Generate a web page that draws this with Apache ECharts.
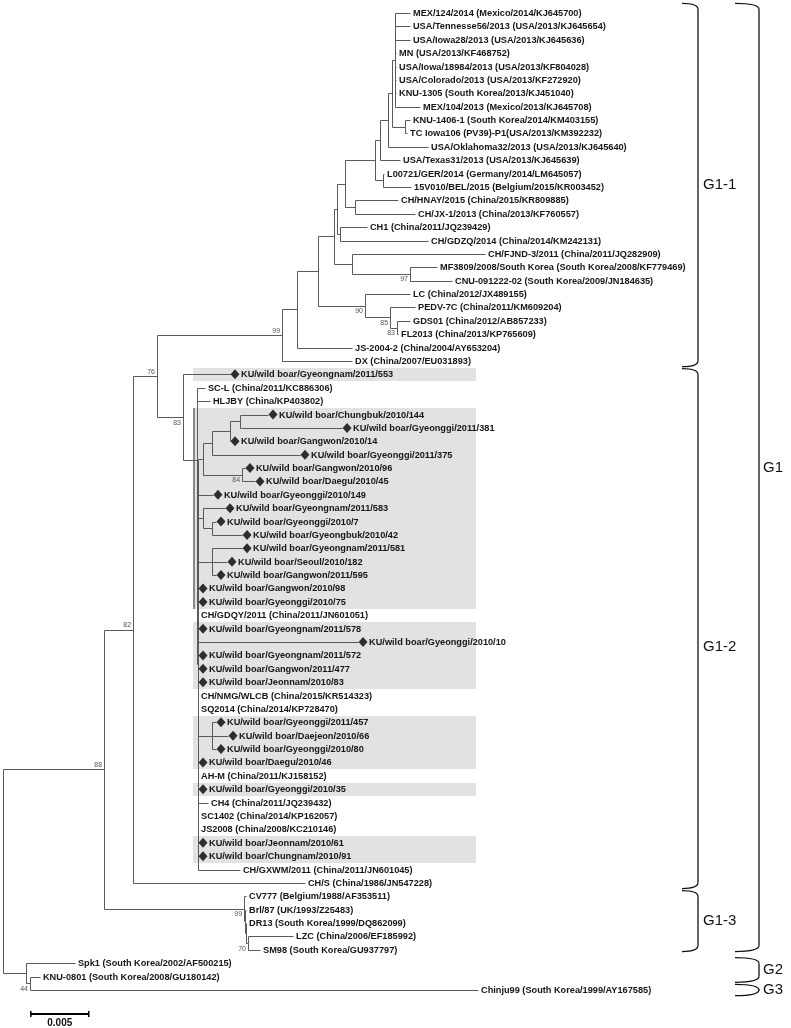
<!DOCTYPE html>
<html><head><meta charset="utf-8">
<script src="https://cdn.jsdelivr.net/npm/echarts@6/dist/echarts.min.js"></script>
<style>html,body{margin:0;padding:0;background:#fff}#c{width:791px;height:1028px}</style>
</head><body><div id="c"></div>
<script>
// ---------- DATA ----------
// leaf labels, top to bottom
const leafNames = [
 'MEX/124/2014 (Mexico/2014/KJ645700)','USA/Tennesse56/2013 (USA/2013/KJ645654)','USA/Iowa28/2013 (USA/2013/KJ645636)',
 'MN (USA/2013/KF468752)','USA/Iowa/18984/2013 (USA/2013/KF804028)','USA/Colorado/2013 (USA/2013/KF272920)',
 'KNU-1305 (South Korea/2013/KJ451040)','MEX/104/2013 (Mexico/2013/KJ645708)','KNU-1406-1 (South Korea/2014/KM403155)',
 'TC Iowa106 (PV39)-P1(USA/2013/KM392232)','USA/Oklahoma32/2013 (USA/2013/KJ645640)','USA/Texas31/2013 (USA/2013/KJ645639)',
 'L00721/GER/2014 (Germany/2014/LM645057)','15V010/BEL/2015 (Belgium/2015/KR003452)','CH/HNAY/2015 (China/2015/KR809885)',
 'CH/JX-1/2013 (China/2013/KF760557)','CH1 (China/2011/JQ239429)','CH/GDZQ/2014 (China/2014/KM242131)',
 'CH/FJND-3/2011 (China/2011/JQ282909)','MF3809/2008/South Korea (South Korea/2008/KF779469)','CNU-091222-02 (South Korea/2009/JN184635)',
 'LC (China/2012/JX489155)','PEDV-7C (China/2011/KM609204)','GDS01 (China/2012/AB857233)','FL2013 (China/2013/KP765609)',
 'JS-2004-2 (China/2004/AY653204)','DX (China/2007/EU031893)',
 'KU/wild boar/Gyeongnam/2011/553','SC-L (China/2011/KC886306)','HLJBY (China/KP403802)',
 'KU/wild boar/Chungbuk/2010/144','KU/wild boar/Gyeonggi/2011/381','KU/wild boar/Gangwon/2010/14','KU/wild boar/Gyeonggi/2011/375',
 'KU/wild boar/Gangwon/2010/96','KU/wild boar/Daegu/2010/45','KU/wild boar/Gyeonggi/2010/149','KU/wild boar/Gyeongnam/2011/583',
 'KU/wild boar/Gyeonggi/2010/7','KU/wild boar/Gyeongbuk/2010/42','KU/wild boar/Gyeongnam/2011/581','KU/wild boar/Seoul/2010/182',
 'KU/wild boar/Gangwon/2011/595','KU/wild boar/Gangwon/2010/98','KU/wild boar/Gyeonggi/2010/75','CH/GDQY/2011 (China/2011/JN601051)',
 'KU/wild boar/Gyeongnam/2011/578','KU/wild boar/Gyeonggi/2010/10','KU/wild boar/Gyeongnam/2011/572','KU/wild boar/Gangwon/2011/477',
 'KU/wild boar/Jeonnam/2010/83','CH/NMG/WLCB (China/2015/KR514323)','SQ2014 (China/2014/KP728470)',
 'KU/wild boar/Gyeonggi/2011/457','KU/wild boar/Daejeon/2010/66','KU/wild boar/Gyeonggi/2010/80','KU/wild boar/Daegu/2010/46',
 'AH-M (China/2011/KJ158152)','KU/wild boar/Gyeonggi/2010/35','CH4 (China/2011/JQ239432)','SC1402 (China/2014/KP162057)',
 'JS2008 (China/2008/KC210146)','KU/wild boar/Jeonnam/2010/61','KU/wild boar/Chungnam/2010/91','CH/GXWM/2011 (China/2011/JN601045)',
 'CH/S (China/1986/JN547228)',
 'CV777 (Belgium/1988/AF353511)','Brl/87 (UK/1993/Z25483)','DR13 (South Korea/1999/DQ862099)','LZC (China/2006/EF185992)',
 'SM98 (South Korea/GU937797)',
 'Spk1 (South Korea/2002/AF500215)','KNU-0801 (South Korea/2008/GU180142)','Chinju99 (South Korea/1999/AY167585)'
];
// parent node of each leaf
const leafParent = [
 'nUSA','nUSA','nUSA','nUSA','nUSA','nUSA','nUSA','nUSA','nKT','nKT','nB','nC','nLB','nLB','nCH','nCH','nCG','nCG',
 'nFM','nMC','nMC','nLC','nP','nGF','nGF','nJ','n99',
 'n83','nBig','nX2','NCG2','NCG2','N14','N375','N84','N84','nX3','N583','N7','N7','N581','N581','N581',
 'nX3','nX3','nX3','nX3','nX3','nX3','nX3','nX3','nX3','nX3','N66','N66','N66',
 'nX3','nX3','nX3','nX3','nX3','nX3','nX3','nX3','nX3','n82',
 'G13','G13b','G13c','n70','n70','G23','n44','n44'
];
// distance of each leaf from the root (substitutions/site)
const leafDepth = [
 0.03512,0.03512,0.03512,0.03392,0.03392,0.03392,0.03392,0.03599,0.03512,0.03487,0.03668,0.03426,0.03288,0.03521,
 0.03409,0.03556,0.03141,0.03668,0.04160,0.03745,0.03875,0.03512,0.03556,0.03512,0.03409,0.03012,0.03012,
 0.01959,0.01743,0.01786,0.02287,0.02926,0.01959,0.02563,0.02088,0.02175,0.01812,0.01916,0.01838,0.02063,0.02063,0.01933,0.01838,
 0.01683,0.01683,0.01683,0.01683,0.03064,0.01683,0.01683,0.01683,0.01683,0.01683,0.01838,0.01942,0.01838,
 0.01683,0.01683,0.01683,0.01769,0.01683,0.01683,0.01683,0.01683,0.02045,0.02606,
 0.02097,0.02097,0.02097,0.02503,0.02218,0.00621,0.00319,0.04099
];
// internal nodes
const nodeNames   = ['root','G23','n44','G1','n82','n76','n99','nJ','nX','nY','nZ','nE','nD','nC','nB','nA','nUSA','nKT','nLB','nCH','nCG','nFM','nMC','nLC','nP','nGF','n83','nBig','nX2','nX3','N203','N375','N14','NCG2','N84','N583','N7','N581','N66','G13','G13b','G13c','n70'];
const nodeParents = [null,'root','G23','root','G1','n82','n76','n99','nJ','nX','nY','nZ','nE','nD','nC','nB','nA','nA','nD','nE','nZ','nY','nFM','nX','nLC','nP','n76','n83','nBig','nX2','nX3','N203','N375','N14','N203','nX3','N583','nX3','nX3','G1','G13','G13b','G13c'];
const nodeDepths  = [0,0.00199,0.00233,0.00872,0.01122,0.01329,0.02408,0.02537,0.02718,0.02857,0.02882,0.02951,0.03210,0.03254,0.03323,0.03357,0.03383,0.03469,0.03279,0.03038,0.02908,0.03012,0.03512,0.03124,0.03340,0.03400,0.01553,0.01674,0.01678,0.01683,0.01726,0.01804,0.01959,0.02045,0.02063,0.01726,0.01804,0.01804,0.01804,0.02080,0.02088,0.02097,0.02114];
// bootstrap support values
const bootNodes  = ['n76','n83','n82','G1','n99','nMC','nLC','nP','nGF','N84','G13','n70','n44'];
const bootValues = [76,83,82,88,99,97,90,85,83,84,99,70,44];
const bootAbove  = [true,false,true,true,true,false,false,false,false,false,false,false,false];
// shaded (wild boar) rows
const shadedLeaves = [27,30,31,32,33,34,35,36,37,38,39,40,41,42,43,44,46,47,48,49,50,53,54,55,56,58,62,63];
// genogroups
const cladeNames = ['G1-1','G1-2','G1-3','G1','G2','G3'];
const cladeFirst = [0,27,66,0,71,73];
const cladeLast  = [26,65,70,70,72,73];
// scale bar length
const scaleBar = 0.005;

// ---------- TREE LAYOUT ----------
const nodes = {};
nodeNames.forEach((n,i)=>{ nodes[n] = {name:n, parent:nodeParents[i], depth:nodeDepths[i], children:[], leaf:false}; });
leafNames.forEach((n,i)=>{ nodes['L'+i] = {name:'L'+i, label:n, parent:leafParent[i], depth:leafDepth[i], children:[], leaf:true, y:i}; });
Object.values(nodes).forEach(nd=>{ if(nd.parent) nodes[nd.parent].children.push(nd); });
function calcY(nd){
  if(nd.leaf) return nd.y;
  const ys = nd.children.map(calcY);
  nd.ymin = Math.min(...ys); nd.ymax = Math.max(...ys);
  nd.y = (nd.ymin + nd.ymax)/2; return nd.y;
}
calcY(nodes.root);
const segs = [];
Object.values(nodes).forEach(nd=>{
  if(nd.parent){ const p = nodes[nd.parent]; segs.push([p.depth, nd.y, nd.depth, nd.y]); }
  if(!nd.leaf) segs.push([nd.depth, nd.ymin, nd.depth, nd.ymax]);
});
const isBoar = s => s.indexOf('KU/wild boar') === 0;

// ---------- CHART ----------
const FONT = '"Liberation Sans", Arial, sans-serif';
const LEAF_FONT = 'bold 9.2px ' + FONT;
const LINE = '#5a5a5a';
const SHADE_RIGHT = 476;
const LABEL_FRAC = {'G1-2':0.535, 'G1':0.49};
const crisp = v => Math.round(v) + 0.5;

const chart = echarts.init(document.getElementById('c'), null, {renderer:'canvas'});
chart.setOption({
  animation:false,
  backgroundColor:'#fff',
  grid:{left:3, top:13, width:788, height:977},
  xAxis:{type:'value', min:0, max:0.068, show:false},
  yAxis:{type:'value', min:0, max:73, inverse:true, show:false},
  series:[
    { // shading
      type:'custom', silent:true, clip:false, z:1,
      data: shadedLeaves.map(i=>[nodes.nX3.depth, i]),
      encode:{x:0, y:1},
      renderItem(params, api){
        const i = api.value(1);
        const x0 = Math.round(api.coord([api.value(0), i])[0]) - 5;
        const y0 = Math.round(api.coord([0, i-0.5])[1]);
        const y1 = Math.round(api.coord([0, i+0.5])[1]);
        const kids = [{type:'rect', shape:{x:x0, y:y0, width:SHADE_RIGHT-x0, height:y1-y0}, style:{fill:'#e2e2e2'}}];
        if (i >= 30 && i <= 44) kids.push({type:'rect', shape:{x:x0, y:y0, width:2, height:y1-y0}, style:{fill:'#8a8a8a'}});
        return {type:'group', children:kids};
      }
    },
    { // branches
      type:'custom', silent:true, clip:false, z:2,
      data: segs, encode:{x:[0,2], y:[1,3]},
      renderItem(params, api){
        const p1 = api.coord([api.value(0), api.value(1)]);
        const p2 = api.coord([api.value(2), api.value(3)]);
        return {type:'line', shape:{x1:crisp(p1[0]), y1:crisp(p1[1]), x2:crisp(p2[0]), y2:crisp(p2[1])},
                style:{stroke:LINE, lineWidth:1}};
      }
    },
    { // wild boar diamonds
      type:'scatter', silent:true, z:3,
      data: leafNames.map((n,i)=>isBoar(n)?[leafDepth[i], i]:null).filter(d=>d),
      symbol:'diamond', symbolSize:[9,10], symbolOffset:[5,0],
      itemStyle:{color:'#000'}
    },
    { // leaf labels
      type:'custom', silent:true, clip:false, z:4,
      data: leafNames.map((n,i)=>[leafDepth[i], i]),
      encode:{x:0, y:1},
      renderItem(params, api){
        const i = params.dataIndex;
        const p = api.coord([api.value(0), api.value(1)]);
        const off = isBoar(leafNames[i]) ? 11 : 3;
        return {type:'text', x:p[0]+off, y:Math.round(p[1])+0.5,
                style:{text:leafNames[i], font:LEAF_FONT, fill:'#161616', align:'left', verticalAlign:'middle'}};
      }
    },
    { // bootstrap values
      type:'custom', silent:true, clip:false, z:4,
      data: bootNodes.map((n,i)=>[nodes[n].depth, nodes[n].y, bootValues[i]]),
      encode:{x:0, y:1},
      renderItem(params, api){
        const i = params.dataIndex;
        const p = api.coord([api.value(0), api.value(1)]);
        const above = bootAbove[i];
        return {type:'text', x:p[0]-2, y: above ? p[1]-1 : p[1]+2,
                style:{text:String(api.value(2)), font:'7px ' + FONT, fill:'#555', align:'right',
                       verticalAlign: above ? 'bottom' : 'top'}};
      }
    },
    { // genogroup brackets
      type:'custom', silent:true, clip:false, z:4,
      data: cladeNames.map((n,i)=>[0, cladeFirst[i], cladeLast[i]]),
      encode:{x:0, y:[1,2]},
      renderItem(params, api){
        const name = cladeNames[params.dataIndex];
        const inner = name.indexOf('-') > 0;
        const V = inner ? 698 : 759, h = inner ? 16 : 24, r = 6;
        const first = api.value(1), last = api.value(2);
        const top = api.coord([0, first - (first === 0 ? 0.8 : 0.5)])[1] + 1;
        const bot = api.coord([0, last + (last === 70 ? 0.2 : 0.5)])[1] - 1;
        const frac = LABEL_FRAC[name] || 0.5;
        const st = {stroke:'#111', lineWidth:1.3, fill:null};
        return {type:'group', children:[
          {type:'bezierCurve', shape:{x1:V-h, y1:top, x2:V, y2:top+r, cpx1:V, cpy1:top}, style:st},
          {type:'line', shape:{x1:V, y1:top+r, x2:V, y2:bot-r}, style:st},
          {type:'bezierCurve', shape:{x1:V, y1:bot-r, x2:V-h, y2:bot, cpx1:V, cpy1:bot}, style:st},
          {type:'text', x:V+(inner?5:4), y:top + (bot-top)*frac,
           style:{text:name, font:'15px ' + FONT, fill:'#111', align:'left', verticalAlign:'middle'}}
        ]};
      }
    },
    { // scale bar
      type:'custom', silent:true, clip:false, z:4,
      data:[[0.0024, 73, scaleBar]],
      encode:{x:0, y:1},
      renderItem(params, api){
        const a = api.coord([api.value(0), api.value(1)]);
        const b = api.coord([api.value(0)+api.value(2), api.value(1)]);
        const y = Math.round(a[1]) + 24;
        const st = {stroke:'#000', lineWidth:2};
        return {type:'group', children:[
          {type:'line', shape:{x1:a[0], y1:y, x2:b[0], y2:y}, style:st},
          {type:'line', shape:{x1:a[0], y1:y-3, x2:a[0], y2:y+3}, style:{stroke:'#000', lineWidth:1.5}},
          {type:'line', shape:{x1:b[0], y1:y-3, x2:b[0], y2:y+3}, style:{stroke:'#000', lineWidth:1.5}},
          {type:'text', x:(a[0]+b[0])/2, y:y+4,
           style:{text:String(api.value(2)), font:'bold 10px ' + FONT, fill:'#111', align:'center', verticalAlign:'top'}}
        ]};
      }
    }
  ]
});
</script></body></html>
